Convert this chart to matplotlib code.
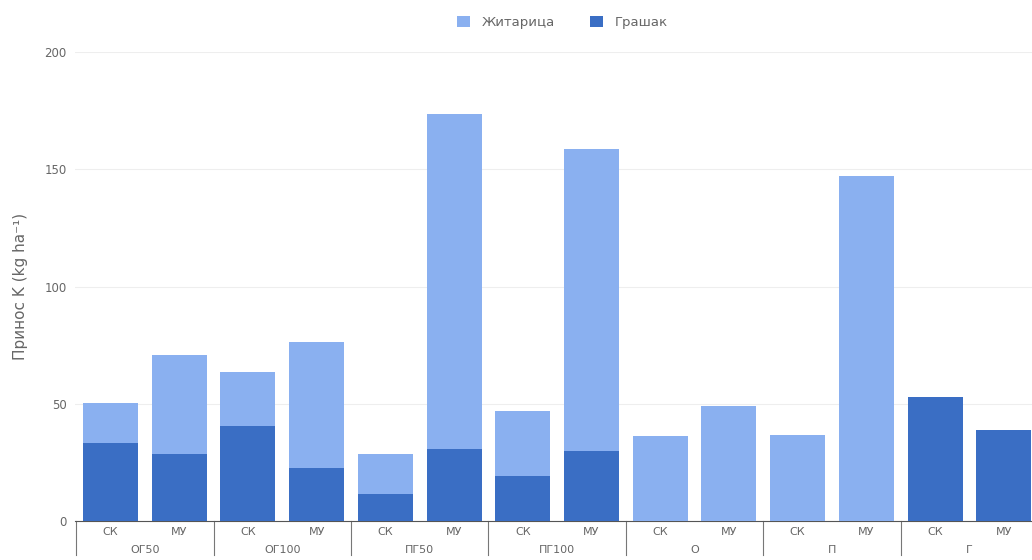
import numpy as np
import matplotlib.pyplot as plt
import matplotlib.transforms as mtransforms

groups = ['ОГ50', 'ОГ100', 'ПГ50', 'ПГ100', 'О', 'П', 'Г']
subs = ['СК', 'МУ']
# Грашак (dark) is the lower part, Житарица (light) stacked on top
grashak = [33.3, 28.6, 40.3, 22.7, 11.5, 30.5, 19.2, 29.9, 0, 0, 0, 0, 52.9, 38.8]
zhitarica_total = [50.5, 70.6, 63.5, 76.3, 28.4, 173.6, 46.9, 158.6, 36.2, 49.0, 36.7, 147.1, 0, 0]

zhitarica = [max(t - g, 0) if t > 0 else 0 for t, g in zip(zhitarica_total, grashak)]

c_light = '#8AB0F0'
c_dark = '#3A6EC4'
txt = '#666666'

fig = plt.figure(figsize=(10.32, 5.6), dpi=100)
ax = fig.add_axes([75 / 1032, 39 / 560, 1 - 75 / 1032, (521 - 52) / 560])

n = len(grashak)
x = np.arange(n)
ax.bar(x, grashak, width=0.8, color=c_dark, label='Грашак', zorder=3)
ax.bar(x, zhitarica, width=0.8, bottom=grashak, color=c_light, label='Житарица', zorder=3)

ax.set_xlim(-0.516, 13.41)
ax.set_ylim(0, 200)
ax.set_yticks([0, 50, 100, 150, 200])
ax.tick_params(axis='y', colors=txt, labelsize=8.5, length=0, pad=6)
ax.grid(axis='y', color='#eeeeee', linewidth=0.8, zorder=0)
for s in ['top', 'right', 'left']:
    ax.spines[s].set_visible(False)
ax.spines['bottom'].set_color('#555555')
ax.spines['bottom'].set_linewidth(0.8)

ax.set_xticks(x)
ax.set_xticklabels(subs * len(groups), fontsize=8, color=txt)
ax.tick_params(axis='x', length=0, pad=4)

trans = mtransforms.blended_transform_factory(ax.transData, ax.transAxes)
for i, g in enumerate(groups):
    ax.text(2 * i + 0.5, -0.062, g, transform=trans, ha='center', va='center',
            fontsize=8, color=txt)
for i in range(len(groups)):
    ax.plot([2 * i - 0.5, 2 * i - 0.5], [0, -0.073], transform=trans,
            color='#777777', linewidth=0.8, clip_on=False)

ax.set_ylabel('Принос K (kg ha⁻¹)', fontsize=11, color=txt, labelpad=12)

handles, labels = ax.get_legend_handles_labels()
fig.legend(handles[::-1], labels[::-1], loc='center', bbox_to_anchor=(0.545, 0.96),
           ncol=2, frameon=False, fontsize=9.5, labelcolor=txt,
           handlelength=1.0, handleheight=1.0, handletextpad=0.9, columnspacing=2.6)

fig.savefig('out.png', dpi=100)
